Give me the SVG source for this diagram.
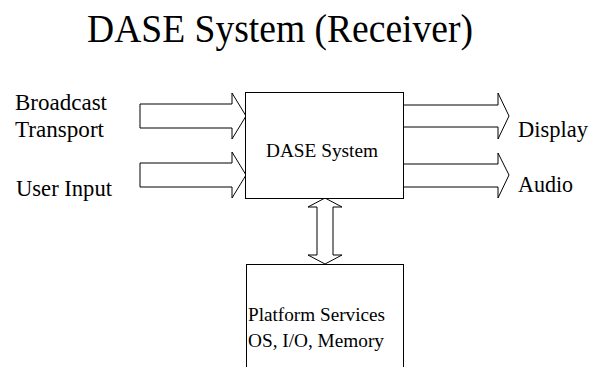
<svg xmlns="http://www.w3.org/2000/svg" width="593" height="367" viewBox="0 0 593 367">
<style>
.shape{fill:#fff;stroke:#000;stroke-width:1}
.t{font-family:"Liberation Serif","Times New Roman",serif;fill:#000}
</style>
<rect width="593" height="367" fill="#fff"/>
<text class="t" x="87" y="42" font-size="41" textLength="386" lengthAdjust="spacingAndGlyphs">DASE System (Receiver)</text>
<g id="connectors">
<polygon class="shape" points="140,104 232,104 232,93 246,116 232,139 232,128 140,128"/>
<polygon class="shape" points="140,163 232,163 232,152 246,175 232,198 232,187 140,187"/>
<polygon class="shape" points="403,105 498,105 498,93 509,116 498,139 498,127 403,127"/>
<polygon class="shape" points="403,164 498,164 498,153 509,175 498,198 498,187 403,187"/>
<polygon class="shape" points="325,198 342,207 333,207 333,255 342,255 325,264 308,255 317,255 317,207 308,207"/>
</g>
<g id="dase-system">
<rect class="shape" x="245.5" y="92.5" width="158" height="106"/>
<text class="t" x="266" y="157" font-size="18" textLength="112" lengthAdjust="spacingAndGlyphs">DASE System</text>
</g>
<g id="platform-services">
<rect class="shape" x="246.5" y="264.5" width="157" height="110"/>
<text class="t" x="248" y="321" font-size="18" textLength="137" lengthAdjust="spacingAndGlyphs">Platform Services</text>
<text class="t" x="248" y="347" font-size="18" textLength="136" lengthAdjust="spacingAndGlyphs">OS, I/O, Memory</text>
</g>
<g id="broadcast-transport">
<text class="t" x="15" y="110" font-size="22.5" textLength="92" lengthAdjust="spacingAndGlyphs">Broadcast</text>
<text class="t" x="15" y="137" font-size="22.5" textLength="89" lengthAdjust="spacingAndGlyphs">Transport</text>
</g>
<g id="user-input"><text class="t" x="16" y="196" font-size="22.5" textLength="96" lengthAdjust="spacingAndGlyphs">User Input</text></g>
<g id="display"><text class="t" x="518" y="137" font-size="22.5" textLength="70" lengthAdjust="spacingAndGlyphs">Display</text></g>
<g id="audio"><text class="t" x="518" y="192" font-size="22.5" textLength="55" lengthAdjust="spacingAndGlyphs">Audio</text></g>
</svg>
